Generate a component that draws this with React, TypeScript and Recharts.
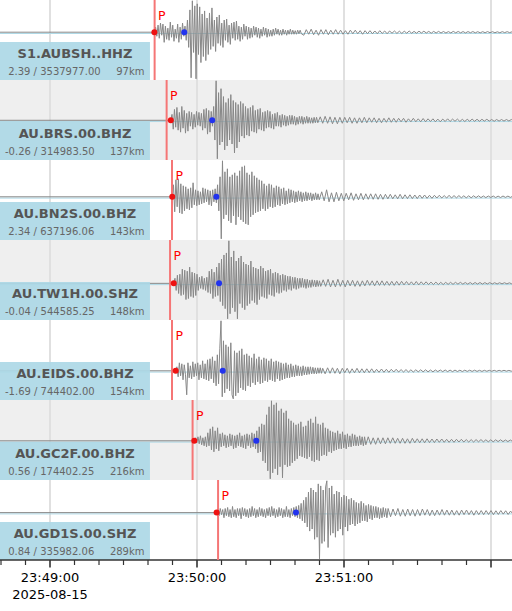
import { ComposedChart, Line, XAxis, YAxis, ReferenceArea, ReferenceLine, ReferenceDot } from "recharts";

// time axis: seconds after 23:49:00 (2025-08-15)
const T_START = -20.41;
const T_END = 188.57;

const STATIONS = [
  "S1.AUBSH..HHZ",
  "AU.BRS.00.BHZ",
  "AU.BN2S.00.BHZ",
  "AU.TW1H.00.SHZ",
  "AU.EIDS.00.BHZ",
  "AU.GC2F.00.BHZ",
  "AU.GD1S.00.SHZ",
];
const MEANS = [2.39, -0.26, 2.34, -0.04, -1.69, 0.56, 0.84];
const PEAKS = [3537977.0, 314983.5, 637196.06, 544585.25, 744402.0, 174402.25, 335982.06];
const DISTANCES_KM = [97, 137, 143, 148, 154, 216, 289];

// theoretical P, picked onset (red) and second pick (blue), seconds
const P_ARRIVALS = [42.7, 47.6, 49.8, 49.0, 49.8, 58.2, 68.6];
const ONSETS = [42.6, 49.3, 49.9, 50.5, 51.3, 58.9, 68.0];
const PICKS = [54.8, 66.2, 67.9, 69.0, 70.5, 84.2, 100.4];

// *_HEAD: 0.5 s samples from the onset; *_CODA: 1 s samples after the head
const AUBSH_HEAD = [
  0, 5, -4, 7, -6, 9, -3, 8, -10, 6,
  -7, 4, -8, 10, -5, 7, -9, 3, -6, 8,
  -10, 5, -7, 9, -4, 6, -8, 12, -15, 22,
  -45, 31, -20, 26, -46, 28, -22, 25, -30, 18,
  -24, 21, -28, 14, -22, 19, -17, 24, -14, 12,
  -19, 15, -11, 17, -13, 9, -15, 12, -8, 13,
  -10, 7, -12, 9, -6, 10, -8, 11, -7, 6,
  -9, 5, -7, 8, -4, 6, -7, 5, -6, 4,
  -5, 6, -3, 5, -5, 4, -6, 3, -4, 5,
  -3, 4, -5, 3, -4, 2, -4, 3, -3, 4,
  -2, 3, -3, 2, -3, 3, -2, 2, -3, 2,
  -2, 3, -2, 2, -2, 1.5, -2, 2, -1.5, 2,
  -1.5,
];
const AUBSH_CODA = [
  -3, 2.5, -2, 3, -2.5, 2, -3, 2.5, -2, 2.5,
  -2.5, 2, -2, 2.5, -2, 2, -2, 1.5, -2, 2,
  -1.5, 2, -1.5, 1.5, -2, 1.5, -1.5, 1.5, -1.5, 1.2,
  -1.5, 1.5, -1.2, 1.2, -1.5, 1.2, -1, 1.2, -1.2, 1,
  -1.2, 1, -1, 1.2, -1, 0.8, -1, 1, -0.8, 1,
  -0.8, 0.8, -1, 0.8, -0.8, 0.8, -0.8, 0.7, -0.8, 0.6,
  -0.7, 0.8, -0.6, 0.7, -0.6, 0.6, -0.7, 0.6, -0.5, 0.6,
  -0.6, 0.5, -0.6, 0.5, -0.5, 0.6, -0.5, 0.5, -0.5, 0.4,
  -0.5, 0.5, -0.4, 0.5, -0.4, 0.4,
];
const BRS_HEAD = [
  0, 6, -9, 11, -7, 13, -10, 8, -12, 14,
  -8, 10, -13, 7, -11, 9, -6, 8, -9, 6,
  -7, 9, -5, 8, -6, 7, -10, 11, -8, 12,
  -14, 10, -12, 9, -6, 14, -20, 40, -39, 28,
  -25, 32, -22, 24, -30, 18, -26, 22, -20, 26,
  -24, 20, -33, 18, -28, 16, -22, 19, -16, 17,
  -18, 14, -15, 12, -16, 13, -11, 15, -12, 10,
  -13, 11, -9, 12, -10, 8, -11, 9, -8, 10,
  -7, 9, -8, 6, -9, 7, -6, 8, -6, 5,
  -7, 6, -5, 5, -6, 4, -5, 5, -4, 5,
  -4, 4, -5, 3, -4, 4, -3, 4, -4, 3,
  -3, 4, -3, 3, -3, 2.5, -3, 3, -2.5, 3,
  -2.5,
];
const BRS_CODA = [
  3.5, -3, 4, -3, 3.5, -3.5, 3, -3.5, 3, -3,
  3, -2.5, 3, -3, 2.5, -3, 2.5, -2.5, 3, -2.5,
  2.5, -2, 2.5, -2.5, 2, -2.5, 2, -2, 2.5, -2,
  2, -2, 2, -1.5, 2, -2, 1.5, -1.5, 2, -1.5,
  1.5, -1.5, 1.8, -1.5, 1.5, -1.2, 1.5, -1.5, 1.2, -1.5,
  1.2, -1.2, 1.5, -1.2, 1.2, -1, 1.2, -1.2, 1, -1.2,
  1, -1, 1.2, -1, 1, -1, 1, -0.8, 1, -0.8,
  0.8, -1, 0.8, -0.8, 0.8, -0.8, 0.8, -0.7, 0.8, -0.7,
];
const BN2S_HEAD = [
  0, 12, -15, 17, -10, 18, -16, 13, -17, 11,
  -14, 10, -12, 8, -13, 9, -11, 14, -8, 7,
  -9, 6, -8, 5, -7, 9, -6, 8, -5, 7,
  -8, 6, -9, 7, -5, 8, -6, 12, -14, 20,
  -42, 36, -22, 25, -18, 28, -24, 20, -26, 22,
  -19, 24, -28, 21, -20, 26, -23, 30, -25, 31,
  -27, 24, -28, 22, -20, 25, -18, 21, -16, 19,
  -15, 17, -14, 16, -12, 13, -14, 11, -12, 13,
  -10, 12, -11, 9, -10, 11, -8, 10, -9, 8,
  -7, 9, -8, 6, -7, 8, -6, 7, -5, 6,
  -6, 5, -5, 6, -4, 5, -5, 4, -4, 5,
  -4, 4, -3, 4, -4, 3, -3, 4, -3, 3,
  -3,
];
const BN2S_CODA = [
  5, -4, 7, -5, 4, -5, 4.5, -4, 3.5, -4,
  3.5, -3, 4, -3.5, 3, -3, 3.5, -3, 3, -2.5,
  3, -2.5, 3, -2.5, 2.5, -2.5, 2.5, -2, 2.5, -2,
  2, -2, 2.5, -2, 2, -1.8, 2, -1.8, 1.8, -1.8,
  1.8, -1.5, 1.8, -1.5, 1.5, -1.5, 1.5, -1.2, 1.5, -1.2,
  1.2, -1.2, 1.5, -1.2, 1.2, -1, 1.2, -1, 1, -1,
  1, -1, 1, -0.8, 1, -0.8, 0.8, -0.8, 0.8, -0.7,
  0.8, -0.7, 0.7, -0.7, 0.8, -0.6, 0.7, -0.6, 0.6,
];
const TW1H_HEAD = [
  0, 5, -7, 8, -10, 9, -12, 14, -11, 13,
  -16, 12, -15, 16, -13, 11, -14, 10, -12, 9,
  -7, 6, -5, 7, -6, 5, -7, 6, -9, 12,
  -10, 14, -15, 11, -13, 16, -12, 20, -18, 24,
  -22, 28, -25, 30, -35, 42, -30, 26, -24, 32,
  -28, 22, -35, 25, -20, 27, -24, 21, -26, 19,
  -22, 18, -20, 22, -17, 16, -19, 15, -21, 14,
  -16, 17, -13, 15, -14, 12, -15, 13, -11, 14,
  -12, 10, -13, 11, -9, 10, -10, 8, -9, 9,
  -7, 8, -8, 7, -6, 7, -7, 6, -5, 6,
  -6, 5, -5, 5, -4, 5, -4, 4, -5, 4,
  -4, 3, -4, 3.5, -3, 3, -3.5, 3, -3, 2.5,
  -3,
];
const TW1H_CODA = [
  3.5, -3, 4, -3.5, 3, -3.5, 4, -3, 3, -3.5,
  3, -2.5, 3, -3, 2.5, -3, 2.5, -2.5, 3, -2,
  2.5, -2.5, 2.5, -2, 2.5, -2, 2, -2, 2, -2,
  2, -1.8, 2, -1.5, 1.8, -1.5, 1.5, -1.5, 1.8, -1.5,
  1.5, -1.2, 1.5, -1.2, 1.2, -1.2, 1.2, -1.2, 1, -1.2,
  1, -1, 1, -1, 1, -0.8, 1, -0.8, 0.8, -0.8,
  0.8, -0.8, 0.8, -0.7, 0.8, -0.7, 0.7, -0.6, 0.7, -0.6,
  0.6, -0.6, 0.6, -0.5, 0.6, -0.5, 0.5, -0.5, 0.5,
];
const EIDS_HEAD = [
  0, 4, -6, 8, -5, 7, -9, 6, -4, -24,
  8, -7, 5, -8, 9, -6, 7, -5, 8, -9,
  6, -7, 10, -8, 7, -9, 11, -10, 12, -8,
  14, -12, 10, -15, 16, -13, 22, 50, -26, 30,
  -22, 26, -18, 24, -20, 28, -24, -28, 20, -25,
  18, -22, 20, -17, 22, -19, 16, -20, 17, -15,
  15, -16, 13, -12, 17, -14, 12, -11, 14, -13,
  11, -12, 13, -10, 12, -11, 10, -9, 12, -10,
  9, -11, 10, -8, 9, -10, 8, -9, 7, -8,
  8, -7, 6, -7, 7, -6, 5, -6, 6, -5,
  5, -5, 4, -5, 5, -4, 4, -4, 4, -3.5,
  4, -3, 3.5, -3, 3, -3, 3, -2.5, 3, -2.5,
  2.5,
];
const EIDS_CODA = [
  -3, 3, -2.5, 3, -2.5, 2.5, -3, 2.5, -2, 2.5,
  -2.5, 2, -2, 2.5, -2, 2, -2, 2, -1.8, 2,
  -1.8, 1.5, -1.5, 1.8, -1.5, 1.5, -1.5, 1.5, -1.2, 1.5,
  -1.2, 1.2, -1.2, 1.2, -1.2, 1, -1.2, 1, -1, 1,
  -1, 1, -1, 0.8, -1, 0.8, -0.8, 0.8, -0.8, 0.8,
  -0.8, 0.7, -0.8, 0.7, -0.7, 0.6, -0.7, 0.6, -0.6, 0.6,
  -0.6, 0.6, -0.6, 0.5, -0.6, 0.5, -0.5, 0.5, -0.5, 0.5,
  -0.5, 0.5, -0.4, 0.5, -0.4, 0.4, -0.4, 0.4,
];
const GC2F_HEAD = [
  0, 3, -2, 4, -3, 5, -4, 3, -5, 4,
  -6, 8, -5, 12, -9, 14, -11, 10, -8, 13,
  -10, 7, -6, 8, -5, 6, -7, 5, -6, 7,
  -5, 6, -8, 5, -7, 6, -5, 8, -6, 5,
  -7, 6, -8, 7, -5, 6, -7, 8, -6, 7,
  -8, 10, -12, 14, -11, 17, -20, 16, -22, 26,
  -30, 34, -38, 40, -32, 36, -28, 38, -34, 30,
  -26, 32, -37, 28, -24, 30, -26, 22, -25, 20,
  -22, 18, -20, 16, -18, 17, -15, 19, -16, 14,
  -17, 15, -18, 20, -16, 22, -20, 18, -21, 24,
  -19, 17, -20, 16, -15, 18, -14, 13, -15, 12,
  -11, 10, -12, 9, -10, 8, -9, 10, -8, 7,
  -8, 9, -7, 6, -8, 7, -6, 5, -6, 7,
  -5, 6, -5, 4, -5, 5, -4, 4, -5, 4,
  -4,
];
const GC2F_CODA = [
  4, -3.5, 3, -3.5, 3, -3, 3, -3, 3, -2.5,
  3, -2.5, 2.5, -2.5, 2.5, -2.5, 2, -2.5, 2.5, -2,
  2, -2, 2, -2, 2, -1.8, 1.8, -1.8, 1.8, -1.5,
  1.8, -1.5, 1.5, -1.5, 1.5, -1.5, 1.5, -1.2, 1.5, -1.2,
  1.2, -1.2, 1.2, -1.2, 1.2, -1, 1.2, -1, 1, -1,
  1, -1, 1, -0.8, 1, -0.8, 0.8, -0.8, 0.8, -0.8,
];
const GD1S_HEAD = [
  0, 2, -3, 4, -2, 3, -5, 4, -3, 5,
  -4, 3, -5, 6, -4, 3, -5, 4, -3, 4,
  -6, 5, -3, 4, -4, 3, -5, 4, -4, 6,
  -3, 4, -5, 3, -4, 5, -3, 4, -4, 3,
  -5, 4, -3, 5, -4, 6, -3, 4, -5, 3,
  -4, 5, -3, 4, -5, 3, -4, 6, -4, 3,
  -5, 4, -3, 5, -4, 6, -5, 7, -6, 9,
  -8, 12, -10, 15, -14, 20, -18, 24, -16, 22,
  -26, 20, -24, 28, -45, 26, -30, 22, -28, 25,
  31, -34, 24, -22, 26, -20, 18, -24, 21, -18,
  20, -16, 15, -22, 17, -14, 16, -18, 13, -12,
  14, -11, 12, -13, 10, -11, 9, -10, 11, -8,
  9, -8, 7, -9, 8, -6, 7, -7, 6, -5,
  6, -5, 5, -6, 4, -5, 5, -4, 4, -5,
  4,
];
const GD1S_CODA = [
  -4, 3.5, -3, 4, -3.5, 3, -3.5, 3.5, -3, 3,
  -3.5, 3, -3, 3.5, -2.5, 3, -3, 2.5, -3, 2.5,
  -2.5, 3, -2.5, 2.5, -2.5, 2.5, -2.5, 2, -2.5, 2.5,
  -2, 2.5, -2, 2, -2.5, 2, -2, 2, -2, 2,
  -1.8, 2, -2, 1.8, -1.8, 2, -1.5, 1.8, -1.8, 1.5,
  -1.5,
];
const HEADS = [AUBSH_HEAD, BRS_HEAD, BN2S_HEAD, TW1H_HEAD, EIDS_HEAD, GC2F_HEAD, GD1S_HEAD];
const CODAS = [AUBSH_CODA, BRS_CODA, BN2S_CODA, TW1H_CODA, EIDS_CODA, GC2F_CODA, GD1S_CODA];

const AXIS_TICKS = [-20, -10, 0, 10, 20, 30, 40, 50, 60, 70, 80, 90, 100, 110, 120, 130, 140, 150, 160, 170, 180];
const MAJOR_TICKS = [0, 60, 120, 180];
const MAJOR_LABELS = ["23:49:00", "23:50:00", "23:51:00", ""];
const DATE_LABEL = "2025-08-15";

const FONT = "DejaVu Sans";
const BOX_END = 40.8; // label panel right edge, seconds

// each trace is stretched to fill its own row band (row r spans y in [r, r + 1])
function buildRow(head: number[], coda: number[], onset: number, row: number) {
  const all = head.concat(coda);
  const max = Math.max(...all);
  const min = Math.min(...all);
  const toY = (v: number) => row + 0.01 + (0.975 * (max - v)) / (max - min);
  const pts = [{ t: T_START, y: toY(0) }];
  head.forEach((v, i) => pts.push({ t: onset + i * 0.5, y: toY(v) }));
  const codaStart = onset + (head.length - 1) * 0.5 + 1;
  coda.forEach((v, i) => pts.push({ t: codaStart + i, y: toY(v) }));
  return { pts, base: toY(0) };
}

const ROWS = HEADS.map((h, r) => buildRow(h, CODAS[r], ONSETS[r], r));

function TimeTick(props: any) {
  const { x, y, payload } = props;
  const k = MAJOR_TICKS.indexOf(payload.value);
  const major = k >= 0;
  return (
    <g>
      <line x1={x} x2={x} y1={y} y2={y + (major ? 7.5 : 5)} stroke="#333" strokeWidth={major ? 1.6 : 1.2} />
      {major && MAJOR_LABELS[k] && (
        <text x={x} y={y + 22} textAnchor="middle" fontSize={13} fontFamily={FONT} fill="#000">
          {MAJOR_LABELS[k]}
        </text>
      )}
      {k === 0 && (
        <text x={x} y={y + 39} textAnchor="middle" fontSize={13} fontFamily={FONT} fill="#000">
          {DATE_LABEL}
        </text>
      )}
    </g>
  );
}

function StationBox(props: any, r: number) {
  const { x, y, width, height } = props;
  const stats = `${MEANS[r].toFixed(2).padStart(5, " ")} / ${PEAKS[r].toFixed(2)}`;
  return (
    <g>
      <rect x={x} y={y} width={width} height={height} fill="#add8e6" fillOpacity={0.92} />
      <text x={x + 75} y={y + 16.3} textAnchor="middle" fontSize={13} fontWeight="bold" fontFamily={FONT} fill="#555">
        {STATIONS[r]}
      </text>
      <text x={x + 5} y={y + 32.5} fontSize={10} fontFamily={FONT} fill="#666" xmlSpace="preserve">
        {stats}
      </text>
      <text x={x + 144.5} y={y + 32.5} textAnchor="end" fontSize={10} fontFamily={FONT} fill="#666">
        {`${DISTANCES_KM[r]}km`}
      </text>
    </g>
  );
}

function PMarker(props: any) {
  const { x1, y1, x2, y2 } = props;
  return (
    <g>
      <line x1={x1} y1={y1} x2={x2} y2={y2} stroke="#f57676" strokeWidth={2} />
      <text x={x1 + 3.4} y={y1 + 19.5} fontSize={12.5} fontFamily={FONT} fill="#ff0000">
        P
      </text>
    </g>
  );
}

export default function App() {
  return (
    <div style={{ position: "absolute", left: 0, top: 0, width: 512, height: 611, background: "#fff" }}>
      <ComposedChart width={512} height={611} margin={{ top: 0, right: 0, bottom: 0, left: 0 }}>
        <XAxis
          type="number"
          dataKey="t"
          domain={[T_START, T_END]}
          allowDataOverflow
          ticks={AXIS_TICKS}
          interval={0}
          height={51}
          tickSize={0}
          tickMargin={0}
          tickLine={false}
          axisLine={{ stroke: "#333", strokeWidth: 1.7 }}
          tick={TimeTick}
          zIndex={500}
        />
        <YAxis hide type="number" dataKey="y" domain={[0, 7]} reversed allowDataOverflow />

        {ROWS.map((_, r) =>
          r % 2 === 1 ? (
            <ReferenceArea
              key={`bg${r}`}
              x1={T_START}
              x2={T_END}
              y1={r}
              y2={r + 1}
              fill="#efefef"
              fillOpacity={1}
              stroke="none"
              zIndex={-200}
            />
          ) : null
        )}

        {MAJOR_TICKS.map((t) => (
          <ReferenceLine key={`g${t}`} x={t} stroke="#e0e0e0" strokeWidth={2} zIndex={-150} />
        ))}

        {ROWS.map((row, r) => (
          <Line
            key={`mean${r}`}
            data={[
              { t: T_START, y: row.base + 0.016 },
              { t: T_END, y: row.base + 0.016 },
            ]}
            dataKey="y"
            stroke="#add8e6"
            strokeWidth={1}
            dot={false}
            activeDot={false}
            isAnimationActive={false}
            zIndex={350}
          />
        ))}

        {ROWS.map((row, r) => (
          <Line
            key={`tr${r}`}
            data={row.pts}
            dataKey="y"
            type="linear"
            stroke="#888888"
            strokeWidth={1}
            dot={false}
            activeDot={false}
            isAnimationActive={false}
            zIndex={400}
          />
        ))}

        {ROWS.map((_, r) => (
          <ReferenceArea
            key={`box${r}`}
            x1={T_START}
            x2={BOX_END}
            y1={r + 0.525}
            y2={r + 1}
            stroke="none"
            shape={(p: any) => StationBox(p, r)}
            zIndex={450}
          />
        ))}

        {P_ARRIVALS.map((t, r) => (
          <ReferenceLine
            key={`p${r}`}
            segment={[
              { x: t, y: r },
              { x: t, y: r + 1 },
            ]}
            shape={PMarker}
            zIndex={500}
          />
        ))}

        {ONSETS.map((t, r) => (
          <ReferenceDot key={`on${r}`} x={t} y={ROWS[r].base} r={3} fill="#ee1111" stroke="none" zIndex={600} />
        ))}
        {PICKS.map((t, r) => (
          <ReferenceDot key={`pk${r}`} x={t} y={ROWS[r].base} r={3} fill="#2233ee" stroke="none" zIndex={600} />
        ))}
      </ComposedChart>
    </div>
  );
}
